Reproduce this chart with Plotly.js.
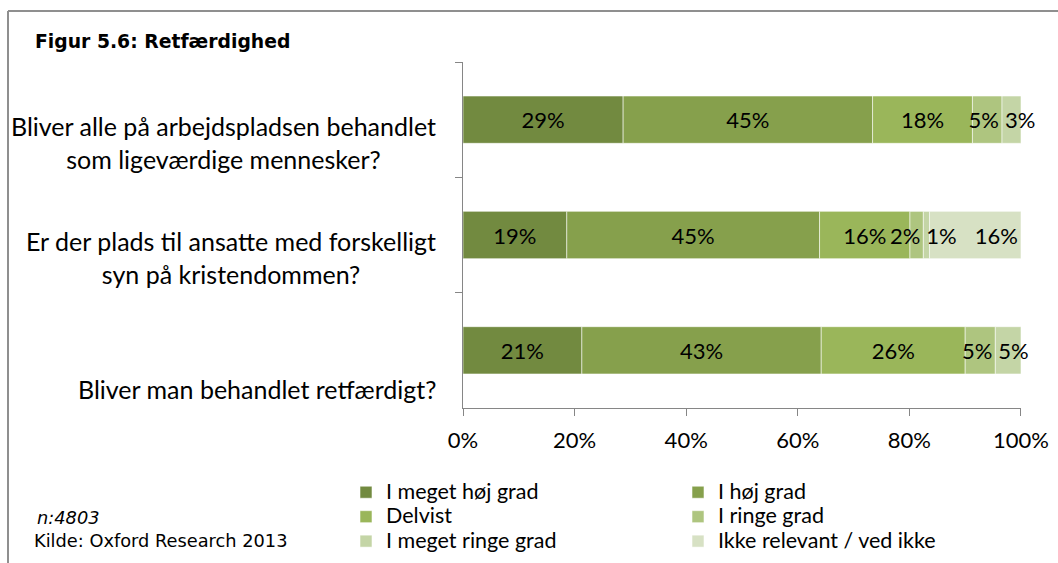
<!DOCTYPE html>
<html><head><meta charset="utf-8">
<script src="https://cdn.plot.ly/plotly-3.0.1.min.js"></script>
<style>html,body{margin:0;padding:0;background:#fff;} #chart{width:1058px;height:563px;}</style>
</head><body><div id="chart"></div>
<script>
// ---- data ----
const questions = [
  "Bliver alle på arbejdspladsen behandlet<br>som ligeværdige mennesker?",
  "Er der plads til ansatte med forskelligt<br>syn på kristendommen?",
  "Bliver man behandlet retfærdigt?"
];
const seriesNames = ["I meget høj grad", "I høj grad", "Delvist", "I ringe grad", "I meget ringe grad", "Ikke relevant / ved ikke"];
const megetHoejGrad   = [28.7, 18.6, 21.3];
const hoejGrad        = [44.7, 45.3, 42.9];
const delvist         = [17.9, 16.2, 25.8];
const ringeGrad       = [5.3, 2.4, 5.4];
const megetRingeGrad  = [3.4, 1.1, 4.6];
const ikkeRelevant    = [0, 16.4, 0];
const xTickVals   = [0, 20, 40, 60, 80, 100];
const xTickLabels = ["0%", "20%", "40%", "60%", "80%", "100%"];

// ---- styles ----
const colors = ["#728a40", "#86a04c", "#9ab65a", "#aec57f", "#c4d5a6", "#d7e1c4"];
const anchors = ["middle", "middle", "middle", "end", "start", "end"];
const seriesValues = [megetHoejGrad, hoejGrad, delvist, ringeGrad, megetRingeGrad, ikkeRelevant];
// drawing order (labels of "I meget ringe grad" must sit above the next segment)
const drawOrder = [0, 1, 2, 3, 5, 4];
const FONT = "Lato, 'Open Sans', sans-serif";
const TFONT = "'DejaVu Sans', sans-serif";
const axisColor = "#868686";

// plot-area pixel geometry helpers
const L = 463, R = 1021, T = 62, B = 408, W = 1058, H = 563;
const px = x => (x - L) / (R - L);
const py = y => (B - y) / (B - T);

// cumulative bases in stacking order
const bases = [];
let running = questions.map(() => 0);
seriesValues.forEach((vals, i) => {
  bases[i] = running.slice();
  running = running.map((r, k) => r + vals[k]);
});

const traces = drawOrder.map(i => {
  const vals = seriesValues[i];
  return {
    type: "bar",
    orientation: "h",
    y: questions,
    x: vals,
    base: bases[i],
    name: '<span style="font-size:21.5px">' + seriesNames[i] + '</span>',
    legend: i % 2 === 0 ? "legend" : "legend2",
    marker: { color: colors[i], line: { color: "rgba(255,255,255,0.55)", width: 1 } },
    text: vals.map(v => v > 0 ? Math.round(v) + "%" : ""),
    textposition: "inside",
    insidetextanchor: anchors[i],
    textangle: 0,
    constraintext: "none",
    cliponaxis: false,
    insidetextfont: { family: FONT, size: 22, color: "#000" },
    hoverinfo: "skip"
  };
});

const annotations = questions.map(q => ({
  text: q, x: 0, xref: "paper", xanchor: "right", xshift: -25,
  y: q, yref: "y", yanchor: "bottom", yshift: -56,
  align: "center", showarrow: false,
  font: { family: FONT, size: 25, color: "#000" }
}));
annotations.push({
  text: "<i>n:4803</i>", x: px(35), xref: "paper", xanchor: "left",
  y: py(517), yref: "paper", yanchor: "middle", showarrow: false,
  font: { family: TFONT, size: 17.8, color: "#000" }
});
annotations.push({
  text: "Kilde: Oxford Research 2013", x: px(32), xref: "paper", xanchor: "left",
  y: py(540), yref: "paper", yanchor: "middle", showarrow: false,
  font: { family: TFONT, size: 17.8, color: "#000" }
});

const legendBase = {
  orientation: "v", traceorder: "normal", xanchor: "left", yanchor: "top",
  y: py(475), bgcolor: "rgba(0,0,0,0)", borderwidth: 0,
  font: { family: FONT, size: 16.5, color: "#000" },
  itemclick: false, itemdoubleclick: false
};

const layout = {
  width: W, height: H,
  margin: { l: L, r: W - R, t: T, b: H - B, pad: 0, autoexpand: false },
  paper_bgcolor: "#fff", plot_bgcolor: "#fff",
  barmode: "overlay", bargap: 0.59,
  title: {
    text: "<b>Figur 5.6: Retfærdighed</b>",
    font: { family: TFONT, size: 18.8, color: "#000" },
    x: 35 / W, xref: "container", xanchor: "left",
    y: 1 - 41 / H, yref: "container", yanchor: "middle", automargin: false
  },
  xaxis: {
    range: [0, 100.001], tickmode: "array", tickvals: xTickVals, ticktext: xTickLabels,
    ticks: "outside", ticklen: 7, tickcolor: axisColor, tickwidth: 1,
    ticklabelstandoff: 6,
    showline: true, linecolor: axisColor, linewidth: 1,
    showgrid: false, zeroline: false, fixedrange: true, automargin: false,
    tickfont: { family: FONT, size: 22, color: "#000" }
  },
  yaxis: {
    type: "category", categoryorder: "array", categoryarray: questions, autorange: "reversed",
    ticks: "outside", tickson: "boundaries", ticklen: 7, tickcolor: axisColor, tickwidth: 1,
    showline: true, linecolor: axisColor, linewidth: 1, automargin: false,
    showticklabels: false, showgrid: false, zeroline: false, fixedrange: true
  },
  showlegend: true,
  legend: Object.assign({}, legendBase, { x: px(346) }),
  legend2: Object.assign({}, legendBase, { x: px(678) }),
  annotations: annotations,
  shapes: [
    { type: "line", xref: "paper", yref: "paper", x0: px(8), x1: px(1060), y0: py(11), y1: py(11),
      line: { color: "#8f8f8f", width: 2 } },
    { type: "line", xref: "paper", yref: "paper", x0: px(8), x1: px(8), y0: py(11), y1: py(565),
      line: { color: "#8f8f8f", width: 2 } }
  ]
};

Plotly.newPlot("chart", traces, layout, { displayModeBar: false, staticPlot: true });
</script>
</body></html>
